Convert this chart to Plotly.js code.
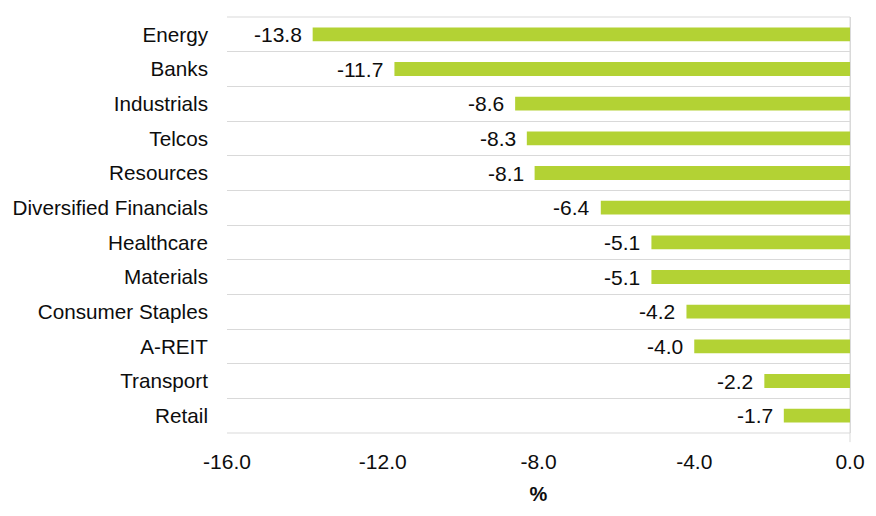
<!DOCTYPE html>
<html><head><meta charset="utf-8">
<script src="https://cdn.plot.ly/plotly-3.0.1.min.js"></script>
<style>html,body{margin:0;padding:0;background:#fff}#chart{width:876px;height:516px}</style>
</head><body><div id="chart"></div>
<script>
const categories = ["Energy","Banks","Industrials","Telcos","Resources","Diversified Financials","Healthcare","Materials","Consumer Staples","A-REIT","Transport","Retail"];
const values = [-13.8,-11.7,-8.6,-8.3,-8.1,-6.4,-5.1,-5.1,-4.2,-4.0,-2.2,-1.7];
const xTicks = [-16,-12,-8,-4,0];

const font = "Liberation Sans, Arial, sans-serif";
const txt = "#0d0d0d";
const trace = {
  type: "bar", orientation: "h",
  x: values, y: categories,
  marker: {color: "#b3d234"},
  width: 0.4,
  hoverinfo: "none"
};
const annotations = values.map((v, i) => ({
  x: v, y: categories[i], xref: "x", yref: "y",
  text: v.toFixed(1), showarrow: false,
  xanchor: "right", xshift: -9,
  font: {family: font, size: 21, color: txt}
}));
const layout = {
  width: 876, height: 516,
  margin: {l: 227, r: 26, t: 17, b: 83},
  paper_bgcolor: "#fff", plot_bgcolor: "#fff",
  showlegend: false,
  xaxis: {
    range: [-16, 0], tickvals: xTicks, ticktext: xTicks.map(t => t.toFixed(1)),
    showgrid: false, zeroline: true, zerolinecolor: "#d9d9d9", zerolinewidth: 1,
    tickfont: {family: font, size: 21, color: txt},
    ticks: "", ticklen: 0, ticklabelstandoff: 14,
    title: {text: "<b>%</b>", font: {family: font, size: 20, color: txt}, standoff: 14}
  },
  yaxis: {
    type: "category", autorange: "reversed",
    tickson: "boundaries", showgrid: true, gridcolor: "#d9d9d9", gridwidth: 1,
    ticks: "", ticklen: 0,
    tickfont: {family: font, size: 20.7, color: txt},
    ticklabelstandoff: 18
  },
  shapes: [
    {type: "line", xref: "paper", yref: "paper", x0: 0, x1: 1, y0: 1, y1: 1, line: {color: "#d9d9d9", width: 1}, layer: "below"},
    {type: "line", xref: "paper", yref: "paper", x0: 0, x1: 1, y0: 0, y1: 0, line: {color: "#d9d9d9", width: 1}, layer: "below"},
    {type: "line", xref: "paper", yref: "paper", x0: 1, x1: 1, y0: -0.022, y1: 1, line: {color: "#d9d9d9", width: 1}, layer: "below"}
  ],
  annotations: annotations
};
Plotly.newPlot("chart", [trace], layout, {displayModeBar: false, staticPlot: true});
</script></body></html>
